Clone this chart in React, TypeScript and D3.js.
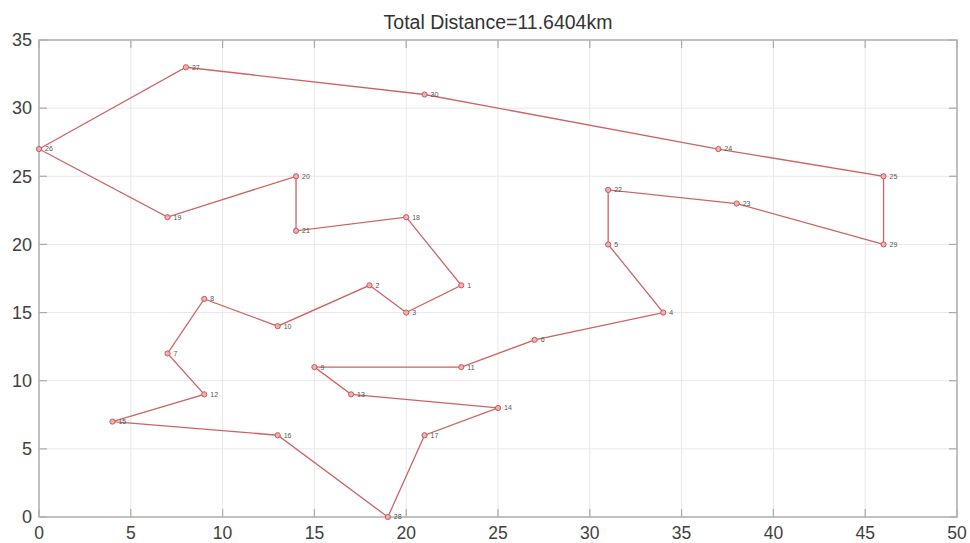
import React from "react";
import * as d3 from "d3";

const cityIds = [1,2,3,4,5,6,7,8,9,10,11,12,13,14,15,16,17,18,19,20,21,22,23,24,25,26,27,28,29,30];
const cityX = [23,18,20,34,31,27,7,9,15,13,23,9,17,25,4,13,21,20,7,14,14,31,38,37,46,0,8,19,46,21];
const cityY = [17,17,15,15,20,13,12,16,11,14,11,9,9,8,7,6,6,22,22,25,21,24,23,27,25,27,33,0,20,31];
const route = [26,27,30,24,25,29,23,22,5,4,6,11,9,13,14,17,28,16,15,12,7,8,10,2,3,1,18,21,20,19,26];
const xTicks = [0,5,10,15,20,25,30,35,40,45,50];
const yTicks = [0,5,10,15,20,25,30,35];
const title = "Total Distance=11.6404km";

const W = 970, H = 543;
const L = 39, R = 957, T = 40, B = 517;

export default function App() {
  const x = d3.scaleLinear().domain([0, 50]).range([L, R]);
  const y = d3.scaleLinear().domain([0, 35]).range([B, T]);
  const pts = route.map((id) => {
    const i = cityIds.indexOf(id);
    return [cityX[i], cityY[i]] as [number, number];
  });
  const line = d3.line<[number, number]>().x((d) => x(d[0])).y((d) => y(d[1]));
  const font = "'Liberation Sans', Arial, sans-serif";
  const tickCol = "#aaaaaa";
  return (
    <svg width={W} height={H} style={{ position: "absolute", left: 0, top: 0, background: "#fff" }}>
      <rect x={0} y={0} width={W} height={H} fill="#fff" />
      {xTicks.map((t) => (
        <line key={"gx" + t} x1={x(t)} x2={x(t)} y1={T} y2={B} stroke="#e8e8e8" strokeWidth={1} />
      ))}
      {yTicks.map((t) => (
        <line key={"gy" + t} x1={L} x2={R} y1={y(t)} y2={y(t)} stroke="#e8e8e8" strokeWidth={1} />
      ))}
      {xTicks.map((t) => (
        <g key={"tx" + t}>
          <line x1={x(t)} x2={x(t)} y1={B} y2={B - 8} stroke={tickCol} strokeWidth={1.2} />
          <line x1={x(t)} x2={x(t)} y1={T} y2={T + 8} stroke={tickCol} strokeWidth={1.2} />
          <text x={x(t)} y={539} textAnchor="middle" fontSize={17.5} fill="#404040" fontFamily={font}>{t}</text>
        </g>
      ))}
      {yTicks.map((t) => (
        <g key={"ty" + t}>
          <line x1={L} x2={L + 8} y1={y(t)} y2={y(t)} stroke={tickCol} strokeWidth={1.2} />
          <line x1={R} x2={R - 8} y1={y(t)} y2={y(t)} stroke={tickCol} strokeWidth={1.2} />
          <text x={32} y={y(t)} dy="0.35em" textAnchor="end" fontSize={18} fill="#404040" fontFamily={font}>{t}</text>
        </g>
      ))}
      <rect x={L} y={T} width={R - L} height={B - T} fill="none" stroke="#b0b0b0" strokeWidth={1.5} />
      <path d={line(pts) || ""} fill="none" stroke="#cc6464" strokeWidth={1.3} />
      {cityIds.map((id, i) => (
        <g key={"c" + id}>
          <circle cx={x(cityX[i])} cy={y(cityY[i])} r={2.6} fill="#eeb0b0" stroke="#c85a5a" strokeWidth={1} />
          <text x={x(cityX[i]) + 6} y={y(cityY[i])} dy="0.35em" fontSize={7} fill="#555" fontFamily={font}>{id}</text>
        </g>
      ))}
      <text x={(L + R) / 2} y={29} textAnchor="middle" fontSize={19.5} fill="#333" fontFamily={font}>{title}</text>
    </svg>
  );
}
